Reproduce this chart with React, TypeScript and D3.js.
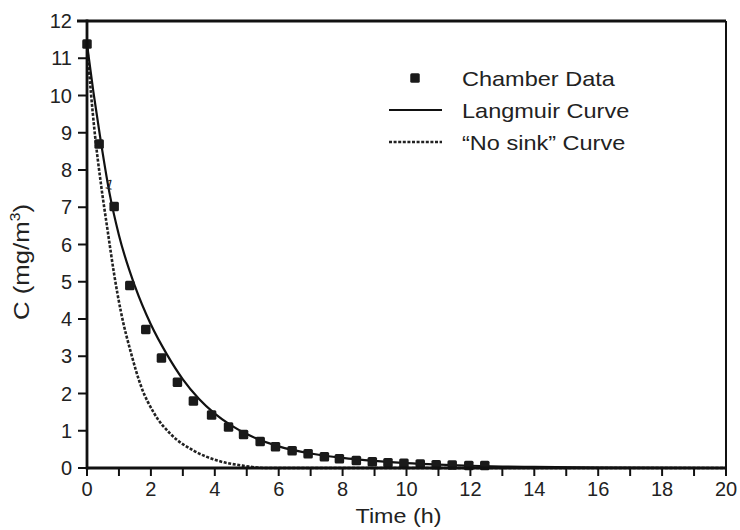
import React from "react";
import * as d3 from "d3";

const chamberT = [0, 0.38, 0.85, 1.34, 1.84, 2.33, 2.83, 3.33, 3.9, 4.43, 4.9, 5.42, 5.9, 6.42, 6.92, 7.43, 7.9, 8.43, 8.93, 9.42, 9.92, 10.43, 10.93, 11.43, 11.95, 12.45];
const chamberC = [11.38, 8.7, 7.02, 4.9, 3.72, 2.95, 2.3, 1.8, 1.42, 1.1, 0.9, 0.71, 0.57, 0.46, 0.38, 0.3, 0.25, 0.2, 0.17, 0.14, 0.13, 0.11, 0.09, 0.08, 0.07, 0.07];

const langT = [0, 0.2, 0.4, 0.7, 1.0, 1.5, 2.0, 2.5, 3.0, 3.5, 4.0, 4.5, 5.0, 6.0, 7.0, 8, 9, 10, 11, 12, 13, 14, 16, 20];
const langC = [11.38, 10.1, 8.95, 7.4, 6.25, 4.88, 3.85, 3.05, 2.38, 1.86, 1.46, 1.15, 0.91, 0.58, 0.39, 0.27, 0.19, 0.13, 0.09, 0.06, 0.04, 0.03, 0.01, 0];

const noSinkT = [0, 0.12, 0.23, 0.44, 0.65, 0.85, 1.06, 1.38, 1.69, 2.1, 2.63, 3.35, 4.08, 4.9, 5.6, 20];
const noSinkC = [11.38, 10.1, 9.1, 7.6, 6.35, 5.2, 4.2, 3.08, 2.2, 1.47, 0.9, 0.46, 0.2, 0.06, 0, 0];

const xTicks = d3.range(0, 21, 1);
const xLabels = d3.range(0, 21, 2);
const yTicks = d3.range(0, 13, 1);

const legendItems = ["Chamber Data", "Langmuir Curve", "\u201cNo sink\u201d Curve"];

const W = 740, H = 530;
const m = { left: 87, right: 726, top: 21, bottom: 468 };
const font = "'Liberation Sans', Arial, Helvetica, sans-serif";

export default function App() {
  const x = d3.scaleLinear().domain([0, 20]).range([m.left, m.right]);
  const y = d3.scaleLinear().domain([0, 12]).range([m.bottom, m.top]);
  const mk = d3.line<[number, number]>().x((d) => x(d[0])).y((d) => y(d[1])).curve(d3.curveMonotoneX);
  const langPath = mk(langT.map((t, i) => [t, langC[i]] as [number, number]));
  const noSinkPath = mk(noSinkT.map((t, i) => [t, noSinkC[i]] as [number, number]));
  const sq = 9.5;
  return (
    <svg width={W} height={H} style={{ position: "absolute", left: 0, top: 0, background: "#fff" }} fontFamily={font}>
      <rect x={0} y={0} width={W} height={H} fill="#fff" />
      <path d={noSinkPath || ""} fill="none" stroke="#222" strokeWidth={2.6} strokeDasharray="3,1.6" />
      <path d={langPath || ""} fill="none" stroke="#111" strokeWidth={2.2} />
      {chamberT.map((t, i) => (
        <rect key={i} x={x(t) - sq / 2} y={y(chamberC[i]) - sq / 2} width={sq} height={sq} rx={1.5} fill="#1a1a1a" />
      ))}
      <line x1={m.left - 10} x2={m.right} y1={m.top} y2={m.top} stroke="#111" strokeWidth={3} />
      <line x1={m.right} x2={m.right} y1={m.top} y2={m.bottom} stroke="#111" strokeWidth={2} />
      <line x1={m.left} x2={m.right + 1} y1={m.bottom} y2={m.bottom} stroke="#111" strokeWidth={2.8} />
      <line x1={m.left} x2={m.left} y1={m.top - 1.5} y2={m.bottom + 1.4} stroke="#111" strokeWidth={2.8} />
      {xTicks.map((t) => (
        <line key={t} x1={x(t)} x2={x(t)} y1={m.bottom} y2={m.bottom + 8} stroke="#111" strokeWidth={2} />
      ))}
      {xLabels.map((t) => (
        <text key={t} x={x(t)} y={496} textAnchor="middle" fontSize={20} fill="#222">{t}</text>
      ))}
      {yTicks.map((v) => (
        <g key={v}>
          <line x1={m.left - 9} x2={m.left} y1={y(v)} y2={y(v)} stroke="#111" strokeWidth={2} />
          <text x={72} y={y(v)} dy="0.36em" textAnchor="end" fontSize={20} fill="#222">{v}</text>
        </g>
      ))}
      <text transform={`translate(${x(10) - 8},523) scale(1.11,1)`} textAnchor="middle" fontSize={21} fill="#222">Time (h)</text>
      <text transform={`translate(29,262) rotate(-90) scale(1.12,1)`} textAnchor="middle" fontSize={23} fill="#222">
        C (mg/m<tspan fontSize={14} dy={-9}>3</tspan><tspan dy={9}>)</tspan>
      </text>
      <text x={106} y={189} fontSize={14} fill="#222" transform="rotate(15,109,183)">1</text>
      <rect x={415 - sq / 2} y={78 - sq / 2} width={sq} height={sq} rx={1.5} fill="#1a1a1a" />
      <line x1={389} x2={442} y1={110} y2={110} stroke="#111" strokeWidth={2.2} />
      <line x1={389} x2={442} y1={142} y2={142} stroke="#222" strokeWidth={2.6} strokeDasharray="3,1.6" />
      {legendItems.map((s, i) => (
        <text key={s} transform={`translate(462,${78 + i * 32}) scale(1.12,1)`} dy="0.36em" fontSize={21} fill="#222">{s}</text>
      ))}
    </svg>
  );
}
